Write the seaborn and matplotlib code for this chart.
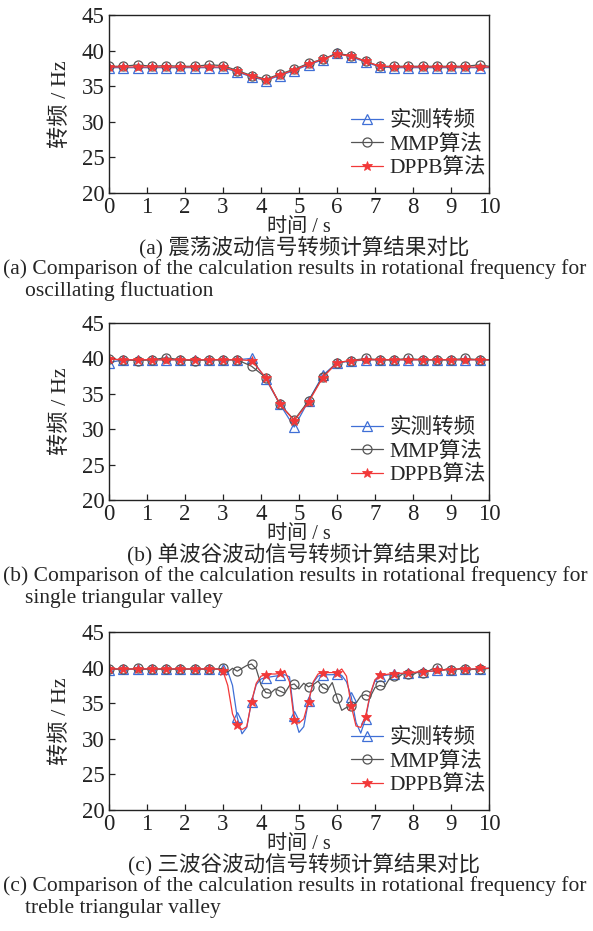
import numpy as np
import seaborn as sns
import matplotlib.pyplot as plt

sns.set_style('ticks')
plt.rcParams['font.family'] = ['Liberation Serif', 'Noto Sans CJK SC']
plt.rcParams['axes.unicode_minus'] = False

# time axes: (a)/(b) sampled at marker points + end point, (c) denser
t_ab = np.append(np.arange(27) * 0.375, 10.0)
t_c = np.arange(81) * 0.125

# (a) oscillating fluctuation
meas_a = [37.6] * 9 + [37.0, 36.3, 35.8, 36.5, 37.2, 38.0, 38.7, 39.7, 39.1, 38.4, 37.7] + [37.6] * 8
mmp_a = [37.8, 37.8, 38.0, 37.8, 37.9, 37.8, 37.8, 38.0, 37.9, 37.2, 36.5, 36.0, 36.7, 37.4,
         38.2, 38.8, 39.6, 39.3, 38.5, 37.8, 37.8, 37.8, 37.8, 37.8, 37.8, 37.8, 38.0, 37.8]
dppb_a = [37.7] * 9 + [37.1, 36.4, 35.9, 36.6, 37.3, 38.1, 38.8, 39.5, 39.2, 38.5, 37.8] + [37.7] * 8

# (b) single triangular valley
meas_b = [39.4] + [39.8] * 9 + [40.0, 37.1, 33.5, 30.3, 34.0, 37.6, 39.4, 39.6, 39.8] + [39.8] * 9
mmp_b = [39.9, 39.8, 39.7, 39.8, 40.1, 39.8, 39.7, 39.8, 39.8, 39.8, 38.9, 37.3, 33.5, 31.3,
         34.0, 37.4, 39.4, 39.7, 40.0, 39.8, 39.8, 40.0, 39.8, 39.8, 39.8, 40.0, 39.8, 39.8]
dppb_b = [39.9] + [39.8] * 9 + [39.7, 37.3, 33.5, 31.2, 33.8, 37.3, 39.4, 39.7, 39.8] + [39.8] * 9

# (c) treble triangular valley
meas_c = ([39.6] + [39.8] * 24 +
          [39.5, 37.5, 33.0, 30.7, 31.6, 35.2, 37.6, 38.4, 38.6, 38.7, 38.8, 38.9, 39.0, 38.7,
           33.2, 30.9, 31.7, 35.3, 37.9, 38.8, 39.0, 39.0, 39.0, 39.1, 38.9, 38.0, 35.9, 32.3,
           30.8, 32.8, 36.2, 38.2, 38.8, 38.9, 39.0, 39.1, 39.1, 39.2, 39.2, 39.3, 39.3, 39.4,
           39.5, 39.5, 39.6, 39.6, 39.7, 39.7, 39.7, 39.8, 39.8, 39.8, 39.8, 39.8, 39.9, 39.9])
mmp_c = ([39.8] * 6 + [39.9] + [39.8] * 17 +
         [39.9, 39.4, 39.9, 39.5, 39.9, 40.3, 40.5, 39.8, 37.6, 36.5, 36.4, 37.0, 36.7, 36.4,
          37.5, 37.7, 37.0, 37.8, 37.3, 37.6, 38.1, 37.2, 36.9, 37.9, 35.8, 34.0, 34.4, 34.6,
          35.0, 36.0, 36.2, 35.9, 37.2, 37.5, 37.3, 38.4, 38.8, 38.7, 39.2, 39.1, 39.0, 39.4,
          39.3, 39.4, 39.8, 39.9, 39.6, 39.8, 39.7, 39.7, 39.9, 39.8, 39.7, 39.8, 39.8, 39.8, 39.9])
dppb_c = ([39.8] * 24 +
          [39.5, 37.5, 33.5, 31.9, 31.3, 31.7, 35.2, 37.8, 38.8, 39.0, 39.1, 39.1, 39.2, 39.6,
           38.0, 32.6, 32.2, 32.8, 35.2, 38.0, 39.1, 39.3, 39.3, 39.3, 39.3, 39.8, 38.8, 34.6,
           31.8, 31.6, 33.1, 36.3, 38.3, 38.9, 39.0, 39.1, 39.1, 39.2, 39.2, 39.3, 39.3, 39.4,
           39.4, 39.5, 39.5, 39.6, 39.6, 39.7, 39.7, 39.8, 39.8, 39.8, 39.8, 39.8, 39.9, 39.9, 39.9])

labels = ['实测转频', 'MMP算法', 'DPPB算法']
c_blue, c_grey, c_red = '#3f6fd6', '#555555', '#f23838'

captions = [
    ('(a) 震荡波动信号转频计算结果对比',
     '(a) Comparison of the calculation results in rotational frequency for',
     'oscillating fluctuation'),
    ('(b) 单波谷波动信号转频计算结果对比',
     '(b) Comparison of the calculation results in rotational frequency for',
     'single triangular valley'),
    ('(c) 三波谷波动信号转频计算结果对比',
     '(c) Comparison of the calculation results in rotational frequency for',
     'treble triangular valley'),
]

W, H = 593, 931
fig = plt.figure(figsize=(W / 100, H / 100), dpi=100)

panels = [
    (t_ab, meas_a, mmp_a, dppb_a, list(range(27)), 15, 193),
    (t_ab, meas_b, mmp_b, dppb_b, list(range(27)), 323, 500),
    (t_c, meas_c, mmp_c, dppb_c, slice(0, 79, 3), 632, 810),
]

for (t, meas, mmp, dppb, every, top, bot), cap in zip(panels, captions):
    ax = fig.add_axes([109 / W, 1 - bot / H, 380 / W, (bot - top) / H])
    sns.lineplot(x=t, y=meas, ax=ax, color=c_blue, lw=0.9, marker='^', markevery=every,
                 ms=6.5, markerfacecolor='none', markeredgecolor=c_blue, markeredgewidth=0.9,
                 label=labels[0])
    sns.lineplot(x=t, y=mmp, ax=ax, color=c_grey, lw=0.9, marker='o', markevery=every,
                 ms=6.5, markerfacecolor='none', markeredgecolor=c_grey, markeredgewidth=0.9,
                 label=labels[1])
    sns.lineplot(x=t, y=dppb, ax=ax, color=c_red, lw=0.9, marker='*', markevery=every,
                 ms=7, markerfacecolor=c_red, markeredgecolor=c_red, markeredgewidth=0.6,
                 label=labels[2])
    ax.set_xlim(0, 10)
    ax.set_ylim(20, 45)
    ax.set_xticks(range(0, 11))
    ax.set_yticks(range(20, 46, 5))
    ax.tick_params(direction='in', length=4, width=0.9, labelsize=16.5, colors='#222222')
    ax.tick_params(axis='x', pad=3)
    ax.tick_params(axis='y', pad=3)
    for s in ax.spines.values():
        s.set_linewidth(1.0)
        s.set_color('#222222')
    ax.set_xlabel('时间 / s', fontsize=14.5, labelpad=0)
    ax.set_ylabel('转频 / Hz', fontsize=16, labelpad=8)
    ax.legend(loc='lower right', bbox_to_anchor=(1.015, 0.035), frameon=False, fontsize=15.5,
              handlelength=1.5, handletextpad=0.3, labelspacing=0.15, borderaxespad=0.0)

    fig.text(304 / W, 1 - (bot + 54) / H, cap[0], fontsize=15.5, ha='center', va='center')
    fig.text(3 / W, 1 - (bot + 76) / H, cap[1], fontsize=15.5, ha='left', va='center')
    fig.text(25 / W, 1 - (bot + 98) / H, cap[2], fontsize=15.5, ha='left', va='center')

fig.savefig('out.png', dpi=100)
